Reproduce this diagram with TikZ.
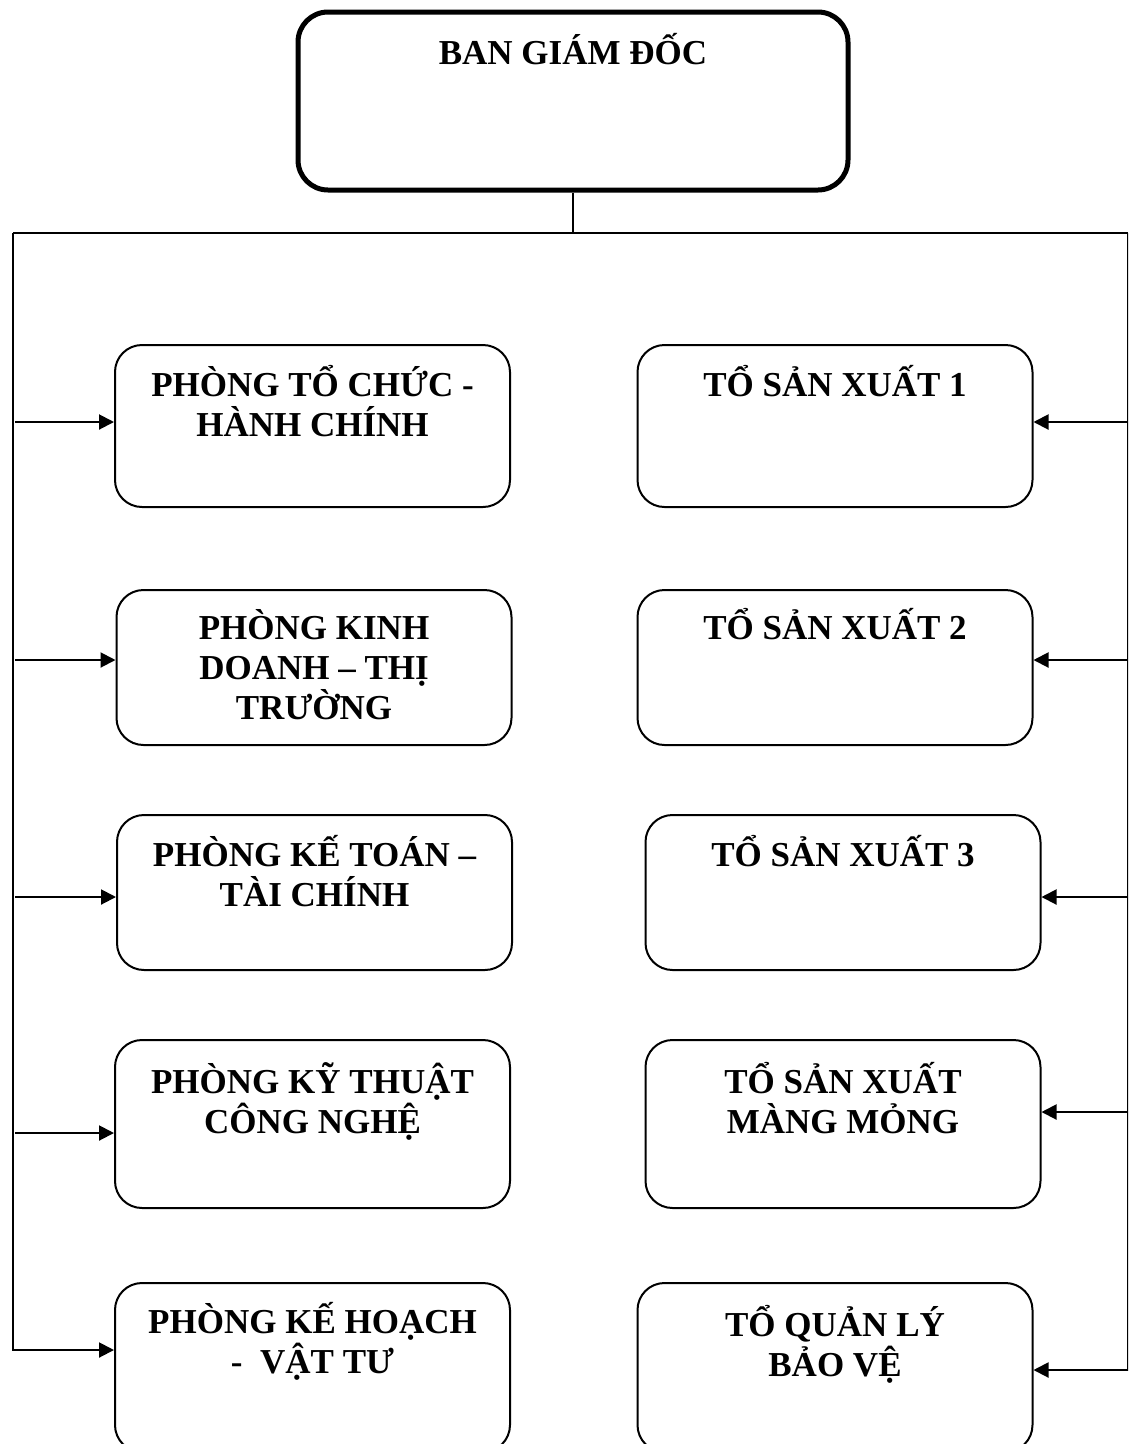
\documentclass[tikz,border=0pt]{standalone}
\usepackage{fontspec}
\setmainfont{Liberation Serif}
\usetikzlibrary{arrows.meta}

\tikzset{
	khoi/.style={draw, line width=2pt, rounded corners=27pt, minimum width=395pt},
	chu/.style={font=\bfseries\fontsize{35}{40}\selectfont, align=center, anchor=base, inner sep=0pt}
}

\begin{document}
\begin{tikzpicture}[x=1pt, y=-1pt, line width=2pt, >={Triangle[length=15pt,width=15pt]}]
		\clip (0,0) rectangle (1128,1444);

		\node[khoi, line width=5pt, rounded corners=30pt, minimum width=550pt, minimum height=178pt] (bgd) at (573,101) {};
		\node[chu] (tbgd) at ([yshift=-55pt]bgd.north) {BAN GIÁM ĐỐC};

		% cac phong ben trai
		\node[khoi, minimum height=162pt] (p1) at (312.5,426) {};
		\node[khoi, minimum height=155pt] (p2) at (314,667.5) {};
		\node[khoi, minimum height=155pt] (p3) at (314.5,892.5) {};
		\node[khoi, minimum height=168pt] (p4) at (312.5,1124) {};
		\node[khoi, minimum height=169pt] (p5) at (312.5,1367.5) {};

		% base = dong cuoi
		\node[chu] (tp1) at ([yshift=-92pt]p1.north) {PHÒNG TỔ CHỨC -\\HÀNH CHÍNH};
		\node[chu] (tp2) at ([yshift=-130pt]p2.north) {PHÒNG KINH\\DOANH – THỊ\\TRƯỜNG};
		\node[chu] (tp3) at ([yshift=-92pt]p3.north) {PHÒNG KẾ TOÁN –\\TÀI CHÍNH};
		\node[chu] (tp4) at ([yshift=-94pt]p4.north) {PHÒNG KỸ THUẬT\\CÔNG NGHỆ};
		\node[chu] (tp5) at ([yshift=-91pt]p5.north) {PHÒNG KẾ HOẠCH\\-\ \ VẬT TƯ\ };

		% cac to ben phai
		\node[khoi, minimum height=162pt] (s1) at (835,426) {};
		\node[khoi, minimum height=155pt] (s2) at (835,667.5) {};
		\node[khoi, minimum height=155pt] (s3) at (843,892.5) {};
		\node[khoi, minimum height=168pt] (s4) at (843,1124) {};
		\node[khoi, minimum height=169pt] (s5) at (835,1367.5) {};

		\node[chu] (ts1) at ([yshift=-52pt]s1.north) {TỔ SẢN XUẤT 1};
		\node[chu] (ts2) at ([yshift=-50pt]s2.north) {TỔ SẢN XUẤT 2};
		\node[chu] (ts3) at ([yshift=-52pt]s3.north) {TỔ SẢN XUẤT 3};
		\node[chu] (ts4) at ([yshift=-94pt]s4.north) {TỔ SẢN XUẤT\\MÀNG MỎNG};
		\node[chu] (ts5) at ([yshift=-94pt]s5.north) {TỔ QUẢN LÝ\\BẢO VỆ};

		% duong noi
		\coordinate (tt) at (13,233);
		\coordinate (tp) at (1127.5,233);
		\coordinate (dt) at (13,1350);
		\coordinate (dp) at (1127.5,1370);

		\draw (bgd.south) -- (bgd.south |- tt);
		\draw (tt) -- (tp);
		\draw [->] (tt) -- (dt) -- (p5.west |- dt);
		\draw [->] (tp) -- (dp) -- (s5.east |- dp);

		\foreach \i/\y in {1/422, 2/660, 3/897, 4/1133} {
			\coordinate (a\i) at (15,\y);
			\draw [->] (a\i) -- (p\i.west |- a\i);
		}
		\foreach \i/\y in {1/422, 2/660, 3/897, 4/1112} {
			\coordinate (b\i) at (1128,\y);
			\draw [->] (b\i) -- (s\i.east |- b\i);
		}
	\end{tikzpicture}
\end{document}
